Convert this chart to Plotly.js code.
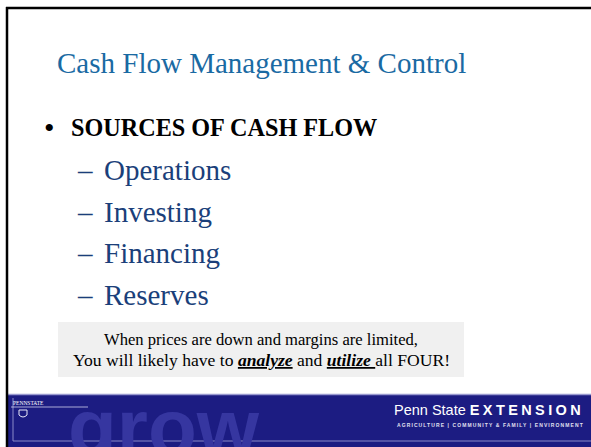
<!DOCTYPE html>
<html>
<head>
<meta charset="utf-8">
<script src="https://cdn.plot.ly/plotly-3.0.1.min.js"></script>
<style>
html,body{margin:0;padding:0;background:#fff;}
#chart{width:591px;height:447px;}
</style>
</head>
<body>
<div id="chart"></div>
<script>
// Slide content
var titleText = "Cash Flow Management & Control";
var headingText = "SOURCES OF CASH FLOW";
var items = ["Operations", "Investing", "Financing", "Reserves"];
var noteLines = [
  "When prices are down and margins are limited,",
  "You will likely have to <b><i><u>analyze</u></i></b> and <b><i><u>utilize </u></i></b>all FOUR!"
];
var brandText = "Penn State";
var brandBold = "EXTENSION";
var brandSub = "AGRICULTURE | COMMUNITY & FAMILY | ENVIRONMENT";
var bannerWord = "grow";
var logoText = "PENNSTATE";

var serif = "Liberation Serif, Times New Roman, serif";
var sans = "Liberation Sans, Arial, sans-serif";
var titleColor = "#1a6aa3";
var itemColor = "#1b3f7a";
var navy = "#1c1c82";

var ann = [];
ann.push({x: 261, y: 63, text: titleText, showarrow: false, xanchor: "center", yanchor: "middle",
  font: {family: serif, size: 29, color: titleColor}});
ann.push({x: 42, y: 127, text: "•", showarrow: false, xanchor: "left", yanchor: "middle",
  font: {family: serif, size: 30, color: "#000"}});
ann.push({x: 69, y: 127, text: "<b>" + headingText + "</b>", showarrow: false, xanchor: "left", yanchor: "middle",
  font: {family: serif, size: 24.2, color: "#000"}});
var itemY = [170, 212, 253, 295];
items.forEach(function (t, i) {
  ann.push({x: 75, y: itemY[i], text: "–", showarrow: false, xanchor: "left", yanchor: "middle",
    font: {family: serif, size: 29, color: itemColor}});
  ann.push({x: 102, y: itemY[i], text: t, showarrow: false, xanchor: "left", yanchor: "middle",
    font: {family: serif, size: 29, color: itemColor}});
});
var noteY = [339, 360];
var noteSize = [16.6, 17.6];
noteLines.forEach(function (t, i) {
  ann.push({x: 261, y: noteY[i], text: t, showarrow: false, xanchor: "center", yanchor: "middle",
    font: {family: serif, size: noteSize[i], color: "#000"}});
});
// banner texts
ann.push({x: 66, y: 447, text: "<b>" + bannerWord + "</b>", showarrow: false, xanchor: "left", yanchor: "bottom",
  yshift: -27, font: {family: sans, size: 80, color: "#3636a0"}});
ann.push({x: 586, y: 410, text: brandText + " <b><span style='letter-spacing:3.4px'>" + brandBold + "</span></b>",
  showarrow: false, xanchor: "right", yanchor: "middle",
  font: {family: sans, size: 14.5, color: "#ffffff"}});
ann.push({x: 586, y: 425, text: "<b><span style='letter-spacing:1.1px'>" + brandSub + "</span></b>", showarrow: false, xanchor: "right", yanchor: "middle",
  font: {family: sans, size: 5, color: "#e0e0f0"}});
ann.push({x: 11, y: 403, text: logoText, showarrow: false, xanchor: "left", yanchor: "middle",
  font: {family: serif, size: 5.5, color: "#ffffff"}});

var shapes = [
  // gray note box
  {type: "rect", xref: "x", yref: "y", x0: 58, x1: 464, y0: 322, y1: 377, fillcolor: "#f0f0f0", line: {width: 0}, layer: "below"},
  // banner
  {type: "rect", xref: "x", yref: "y", x0: 7, x1: 591, y0: 394, y1: 447, fillcolor: navy, line: {width: 0}, layer: "below"},
  {type: "line", xref: "x", yref: "y", x0: 7, x1: 591, y0: 394.5, y1: 394.5, line: {color: "#9a9ad0", width: 1.5}},
  {type: "line", xref: "x", yref: "y", x0: 13, x1: 591, y0: 441, y1: 441, line: {color: "#8a8ac8", width: 1}},
  {type: "line", xref: "x", yref: "y", x0: 13, x1: 13, y0: 398, y1: 441, line: {color: "#8a8ac8", width: 1}},
  {type: "line", xref: "x", yref: "y", x0: 11, x1: 88, y0: 407, y1: 407, line: {color: "#d0d0ee", width: 0.8}},
  // logo shield
  {type: "path", xref: "x", yref: "y", path: "M 19 410 L 27 410 L 27 415 Q 23 419 19 415 Z", fillcolor: "rgba(0,0,0,0)", line: {color: "#e8e8f8", width: 1}},
  // slide border (top and left)
  {type: "line", xref: "x", yref: "y", x0: 6, x1: 591, y0: 8, y1: 8, line: {color: "#000", width: 2.5}},
  {type: "line", xref: "x", yref: "y", x0: 7, x1: 7, y0: 7, y1: 447, line: {color: "#000", width: 2.5}}
];

var layout = {
  width: 591, height: 447,
  margin: {l: 0, r: 0, t: 0, b: 0, pad: 0},
  paper_bgcolor: "#ffffff", plot_bgcolor: "#ffffff",
  showlegend: false,
  xaxis: {range: [0, 591], visible: false, fixedrange: true},
  yaxis: {range: [447, 0], visible: false, fixedrange: true},
  annotations: ann,
  shapes: shapes
};
Plotly.newPlot("chart", [{x: [], y: [], type: "scatter", hoverinfo: "skip"}], layout, {staticPlot: true, displayModeBar: false});
</script>
</body>
</html>
